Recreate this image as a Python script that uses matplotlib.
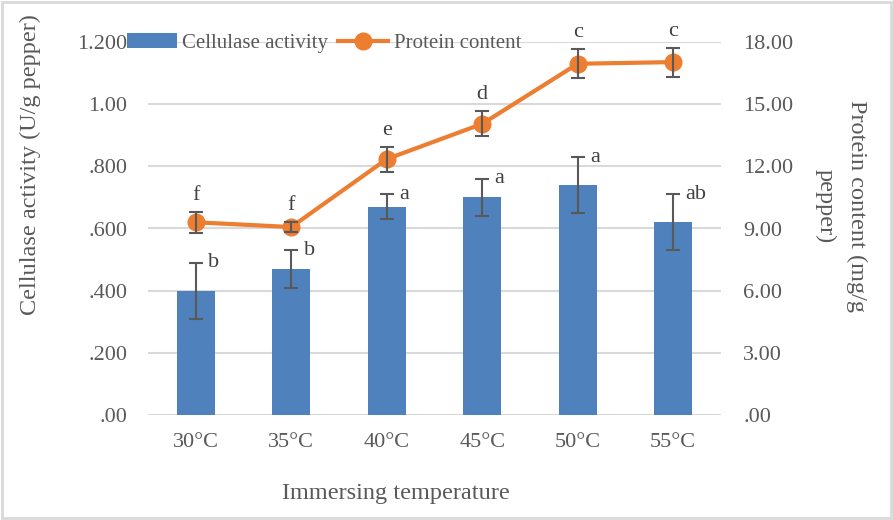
import matplotlib
matplotlib.use("Agg")
import matplotlib.pyplot as plt
from matplotlib.patches import Rectangle
import numpy as np

plt.rcParams['font.family'] = ['Liberation Serif', 'DejaVu Serif']

# donnees
temperatures = ["30°C", "35°C", "40°C", "45°C", "50°C", "55°C"]
cellulase = [0.40, 0.47, 0.67, 0.70, 0.74, 0.62]
cellulase_err = [0.09, 0.06, 0.04, 0.06, 0.09, 0.09]
cellulase_letters = ["b", "b", "a", "a", "a", "ab"]
protein = [9.30, 9.07, 12.35, 14.05, 16.95, 17.03]
protein_err = [0.50, 0.25, 0.60, 0.60, 0.70, 0.70]
protein_letters = ["f", "f", "e", "d", "c", "c"]
left_ticks = [0, 0.2, 0.4, 0.6, 0.8, 1.0, 1.2]
left_labels = [".00", ".200", ".400", ".600", ".800", "1.00", "1.200"]
right_ticks = [0, 3, 6, 9, 12, 15, 18]
right_labels = [".00", "3.00", "6.00", "9.00", "12.00", "15.00", "18.00"]

blue = "#4F81BD"
orange = "#ED7D31"
gray = "#595959"
grid = "#D9D9D9"

fig = plt.figure(figsize=(8.93, 5.2), dpi=100)
ax = fig.add_axes([148/893, 105/520, 573/893, 373/520])
ax2 = ax.twinx()

x = np.arange(len(temperatures))

# grille
for t in left_ticks:
    ax.axhline(t, color=grid, linewidth=1.5, zorder=0)

ax.bar(x, cellulase, width=0.40, color=blue, zorder=2, label="Cellulase activity")
ax.errorbar(x, cellulase, yerr=cellulase_err, fmt="none", ecolor=gray,
            elinewidth=1.5, capsize=5, capthick=1.5, zorder=3)
for i in range(len(x)):
    ax.annotate(cellulase_letters[i], (x[i], cellulase[i] + cellulase_err[i]),
                xytext=(9, 0), textcoords="offset points", ha="left", va="center",
                fontsize=16, color="#404040", zorder=4)

ax2.plot(x, protein, color=orange, linewidth=3, marker="o", markersize=12,
         zorder=3, label="Protein content")
ax2.errorbar(x, protein, yerr=protein_err, fmt="none", ecolor=gray,
             elinewidth=1.5, capsize=5, capthick=1.5, zorder=4)
for i in range(len(x)):
    ax2.annotate(protein_letters[i], (x[i], protein[i] + protein_err[i]),
                 xytext=(0, 5), textcoords="offset points", ha="center", va="bottom",
                 fontsize=16, color="#404040")

ax.set_xlim(-0.5, 5.5)
ax.set_ylim(0, 1.2)
ax2.set_ylim(0, 18)
ax.set_xticks(x)
ax.set_xticklabels(temperatures)
ax.set_yticks(left_ticks)
ax.set_yticklabels(left_labels)
ax2.set_yticks(right_ticks)
ax2.set_yticklabels(right_labels)

for a in (ax, ax2):
    for s in a.spines.values():
        s.set_visible(False)
    a.tick_params(length=0, labelsize=16, colors=gray)
ax.tick_params(axis="y", pad=15)
ax2.tick_params(axis="y", pad=16)
ax.tick_params(axis="x", pad=13)
# la ligne doit etre au-dessus des barres
ax.set_zorder(0)
ax2.set_zorder(1)
ax2.patch.set_visible(False)

h1, l1 = ax.get_legend_handles_labels()
h2, l2 = ax2.get_legend_handles_labels()
fig.legend(h1 + h2, l1 + l2, loc="center left", bbox_to_anchor=(108/893, 1 - 43/520),
           ncol=2, frameon=False, fontsize=15, handlelength=2.4, columnspacing=0.5,
           handletextpad=0.25, labelcolor=gray)

fig.text(30/893, 1 - 165/520, "Cellulase activity (U/g pepper)", rotation=90,
         ha="center", va="center", fontsize=17.5, color=gray)
fig.text(841/893, 1 - 206/520, "Protein content (mg/g\npepper)", rotation=270,
         ha="center", va="center", fontsize=17.5, color=gray, multialignment="center",
         linespacing=1.6)
fig.text(396/893, 1 - 493/520, "Immersing temperature", ha="center", va="center",
         fontsize=17.5, color=gray)

fig.patches.append(Rectangle((0.002, 0.003), 0.996, 0.994, transform=fig.transFigure,
                             fill=False, edgecolor=grid, linewidth=2))

plt.savefig("out.png", dpi=100)
plt.close()
